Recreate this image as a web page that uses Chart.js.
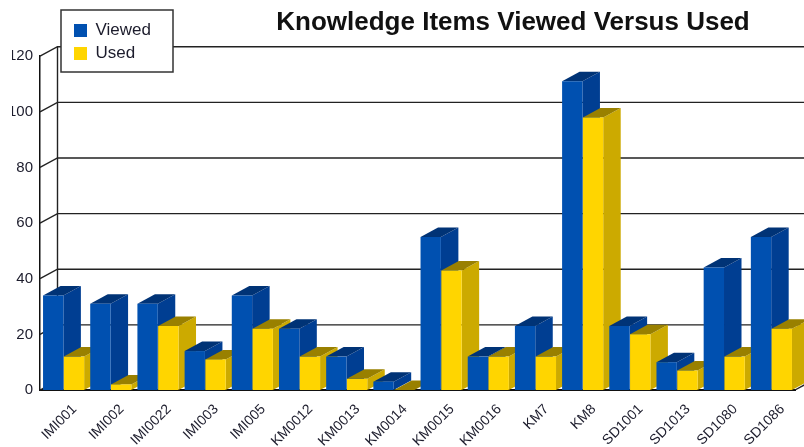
<!DOCTYPE html>
<html><head><meta charset="utf-8">
<style>html,body{margin:0;padding:0;background:#fff}#w{width:804px;height:447px}canvas{filter:blur(0.45px)}</style>
<script src="https://cdn.jsdelivr.net/npm/chart.js@4"></script></head>
<body><div id="w"><canvas id="c"></canvas></div>
<script>
const categories=['IMI001','IMI002','IMI0022','IMI003','IMI005','KM0012','KM0013','KM0014','KM0015','KM0016','KM7','KM8','SD1001','SD1013','SD1080','SD1086'];
const viewed=[34,31,31,14,34,22,12,3,55,12,23,111,23,10,44,55];
const used=[12,2,23,11,22,12,4,0,43,12,12,98,20,7,12,22];
const yTicks=[0,20,40,60,80,100,120];
const titleText='Knowledge Items Viewed Versus Used';
const DX=17.5,DY=9.5;
const shades=[{side:'#003e92',top:'#003376'},{side:'#ccaa00',top:'#998000'}];
const textCol='#1c1c2c',lineCol='#222';

function depth(ctx,p,s){
  const l=p.x-p.width/2,r=p.x+p.width/2,t=Math.min(p.y,p.base),b=p.base;
  ctx.fillStyle=s.side;
  ctx.beginPath();ctx.moveTo(r,t);ctx.lineTo(r+DX,t-DY);ctx.lineTo(r+DX,b-DY);ctx.lineTo(r,b);ctx.closePath();ctx.fill();
  ctx.fillStyle=s.top;
  ctx.beginPath();ctx.moveTo(l,t);ctx.lineTo(l+DX,t-DY);ctx.lineTo(r+DX,t-DY);ctx.lineTo(r,t);ctx.closePath();ctx.fill();
}
const threeD={
  id:'threeD',
  afterLayout(chart){
    const lg=chart.legend,w=lg.width,h=lg.height;
    lg.left=68;lg.top=16;lg.right=68+w;lg.bottom=16+h;
    const t=chart.titleBlock;
    t.left=200;t.right=826;
  },
  beforeDatasetsDraw(chart){
    const ctx=chart.ctx,ys=chart.scales.y,area=chart.chartArea;
    ctx.save();
    ctx.strokeStyle=lineCol;ctx.lineWidth=1.4;
    yTicks.forEach(v=>{
      const y=ys.getPixelForValue(v);
      ctx.beginPath();ctx.moveTo(area.left,y);ctx.lineTo(area.left+DX,y-DY);
      if(v>0)ctx.lineTo(chart.width+20,y-DY);
      ctx.stroke();
    });
    const y0=ys.getPixelForValue(0),y1=ys.getPixelForValue(120);
    ctx.beginPath();ctx.moveTo(area.left+DX,y1-DY);ctx.lineTo(area.left+DX,y0-DY);ctx.stroke();
    ctx.beginPath();ctx.moveTo(area.right,y0);ctx.lineTo(area.right+DX,y0-DY);ctx.stroke();
    const metas=chart.data.datasets.map((d,i)=>chart.getDatasetMeta(i));
    categories.forEach((c,i)=>{
      metas.forEach((m,k)=>{
        const el=m.data[i];
        depth(ctx,el.getProps(['x','y','base','width'],true),shades[k]);
        el.draw(ctx);
      });
    });
    ctx.restore();
    return false;
  },
  afterDraw(chart){
    const ctx=chart.ctx,lg=chart.legend;
    ctx.save();
    ctx.fillStyle='#fff';ctx.strokeStyle='#333';ctx.lineWidth=1.5;
    ctx.fillRect(61,10,112,62);ctx.strokeRect(61,10,112,62);
    ctx.restore();
    lg.draw();
    ctx.save();ctx.fillStyle='#fff';ctx.fillRect(0,40,12,90);ctx.restore();
  }
};
new Chart(document.getElementById('c'),{
  type:'bar',
  data:{labels:categories,datasets:[
    {label:'Viewed',data:viewed,backgroundColor:'#0050b0',borderWidth:0},
    {label:'Used',data:used,backgroundColor:'#ffd500',borderWidth:0}
  ]},
  options:{
    responsive:true,maintainAspectRatio:false,animation:false,
    layout:{padding:{left:0,right:9,top:0,bottom:0}},
    datasets:{bar:{categoryPercentage:0.88,barPercentage:0.98}},
    plugins:{
      tooltip:{enabled:false},
      legend:{position:'chartArea',align:'start',labels:{boxWidth:13,boxHeight:13,padding:6,color:textCol,font:{family:'Liberation Sans',size:17}}},
      title:{display:true,text:titleText,color:'#111',align:'center',padding:{top:7,bottom:18},font:{family:'Liberation Sans',size:26,weight:'bold'}}
    },
    scales:{
      x:{grid:{display:false},border:{display:true,color:'#111',width:2},
        afterFit(s){s.height=57},
        ticks:{autoSkip:false,maxRotation:45,minRotation:45,labelOffset:11,padding:3,color:textCol,font:{family:'Liberation Sans',size:14}}},
      y:{min:0,max:120,grid:{display:false,drawTicks:false},border:{display:true,color:'#111',width:1.5},
        afterFit(s){s.width=40},
        afterBuildTicks(s){s.ticks=yTicks.map(v=>({value:v}))},
        ticks:{padding:7,color:textCol,font:{family:'Liberation Sans',size:15}}}
    }
  },
  plugins:[threeD]
});
</script></body></html>
